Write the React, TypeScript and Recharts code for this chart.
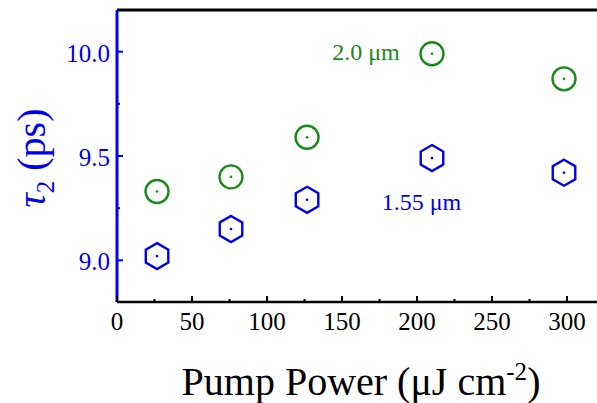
import React from 'react';
import { ScatterChart, Scatter, XAxis, YAxis, ReferenceDot, ReferenceLine, Label } from 'recharts';

// ---- data ----
const pumpPower = [26.7, 76, 126.7, 210, 298];
const tau2_20um = [9.33, 9.4, 9.59, 9.99, 9.87];
const tau2_155um = [9.02, 9.15, 9.29, 9.49, 9.42];
const xTicks = [0, 25, 50, 75, 100, 125, 150, 175, 200, 225, 250, 275, 300];
const yTicks = [9.0, 9.25, 9.5, 9.75, 10.0];
const xDomain = [0, 320];
const yDomain = [8.8, 10.2];
const annotationText = ['2.0 μm', '1.55 μm'];
const annotationX = [166, 203];
const annotationY = [10.0, 9.28];

const data20 = pumpPower.map((x, i) => ({ x, y: tau2_20um[i] }));
const data155 = pumpPower.map((x, i) => ({ x, y: tau2_155um[i] }));

const BLUE = '#0000f0';
const GREEN = '#1a8a1a';
const SERIF = '"Liberation Serif", "Times New Roman", serif';

const XTick = (props: any) => {
  const { x, y, payload } = props;
  const v = payload.value;
  const major = v % 50 === 0;
  return (
    <g>
      <line x1={x} x2={x} y1={y} y2={y - (major ? 6 : 3)} stroke="#000" strokeWidth={2} />
      {major && (
        <text x={x} y={y + 28} textAnchor="middle" style={{ fontFamily: SERIF }} fontSize={25} fill="#000">
          {v}
        </text>
      )}
    </g>
  );
};

const YTick = (props: any) => {
  const { x, y, payload } = props;
  const v = payload.value;
  const major = Math.abs(v * 2 - Math.round(v * 2)) < 1e-6;
  return (
    <g>
      <line x1={x} x2={x + (major ? 6 : 3)} y1={y} y2={y} stroke={BLUE} strokeWidth={2} />
      {major && (
        <text x={x - 7} y={y + 10} textAnchor="end" style={{ fontFamily: SERIF }} fontSize={25} fill={BLUE}>
          {v.toFixed(1)}
        </text>
      )}
    </g>
  );
};

const CircleMark = (p: any) => (
  <g>
    <circle cx={p.cx} cy={p.cy} r={11.5} fill="none" stroke={GREEN} strokeWidth={2.4} />
    <circle cx={p.cx} cy={p.cy} r={1.3} fill={GREEN} />
  </g>
);

const HexMark = (p: any) => {
  const R = 13;
  const pts = [0, 1, 2, 3, 4, 5]
    .map((k) => {
      const a = ((-90 + 60 * k) * Math.PI) / 180;
      return `${p.cx + R * Math.cos(a)},${p.cy + R * Math.sin(a)}`;
    })
    .join(' ');
  return (
    <g>
      <polygon points={pts} fill="none" stroke={BLUE} strokeWidth={2.4} />
      <circle cx={p.cx} cy={p.cy} r={1.3} fill={BLUE} />
    </g>
  );
};

const XTitle = (props: any) => {
  const vb = props.viewBox;
  return (
    <text x={vb.x + vb.width / 2 + 4} y={vb.y + 93} textAnchor="middle" style={{ fontFamily: SERIF }} fontSize={40} fill="#000">
      Pump Power (μJ cm
      <tspan dy={-15} fontSize={25}>-2</tspan>
      <tspan dy={15}>)</tspan>
    </text>
  );
};

const YTitle = (props: any) => {
  const vb = props.viewBox;
  const cx = 45;
  const cy = vb.y + vb.height / 2 + 2;
  return (
    <text
      x={cx}
      y={cy}
      transform={`rotate(-90, ${cx}, ${cy})`}
      textAnchor="middle"
      style={{ fontFamily: SERIF }}
      fontSize={40}
      fill={BLUE}
    >
      <tspan fontStyle="italic">τ</tspan>
      <tspan dy={9} fontSize={25}>2</tspan>
      <tspan dy={-9}> (ps)</tspan>
    </text>
  );
};

export default function App() {
  return (
    <div style={{ position: 'absolute', left: 0, top: 0, width: 597, height: 403, overflow: 'hidden', background: '#fff' }}>
      <ScatterChart width={597} height={403} margin={{ top: 10, right: 0, bottom: 0, left: 0 }}>
        <XAxis
          type="number"
          dataKey="x"
          domain={xDomain}
          ticks={xTicks}
          interval={0}
          height={101}
          tickSize={0}
          tickMargin={0}
          tickLine={false}
          tick={<XTick />}
          axisLine={{ stroke: '#000', strokeWidth: 2.5 }}
          allowDataOverflow
        >
          <Label content={<XTitle />} />
        </XAxis>
        <YAxis
          type="number"
          dataKey="y"
          domain={yDomain}
          ticks={yTicks}
          interval={0}
          width={117}
          tickSize={0}
          tickMargin={0}
          tickLine={false}
          tick={<YTick />}
          axisLine={{ stroke: '#0000ff', strokeWidth: 3 }}
          allowDataOverflow
        >
          <Label content={<YTitle />} />
        </YAxis>
        <ReferenceLine y={yDomain[1]} stroke="#000" strokeWidth={3} ifOverflow="visible" />
        <Scatter data={data20} shape={<CircleMark />} isAnimationActive={false} />
        <Scatter data={data155} shape={<HexMark />} isAnimationActive={false} />
        <ReferenceDot
          x={annotationX[0]}
          y={annotationY[0]}
          r={0}
          stroke="none"
          fill="none"
          label={{ value: annotationText[0], position: 'center', fill: GREEN, fontSize: 24, fontFamily: SERIF }}
        />
        <ReferenceDot
          x={annotationX[1]}
          y={annotationY[1]}
          r={0}
          stroke="none"
          fill="none"
          label={{ value: annotationText[1], position: 'center', fill: BLUE, fontSize: 24, fontFamily: SERIF }}
        />
      </ScatterChart>
    </div>
  );
}
